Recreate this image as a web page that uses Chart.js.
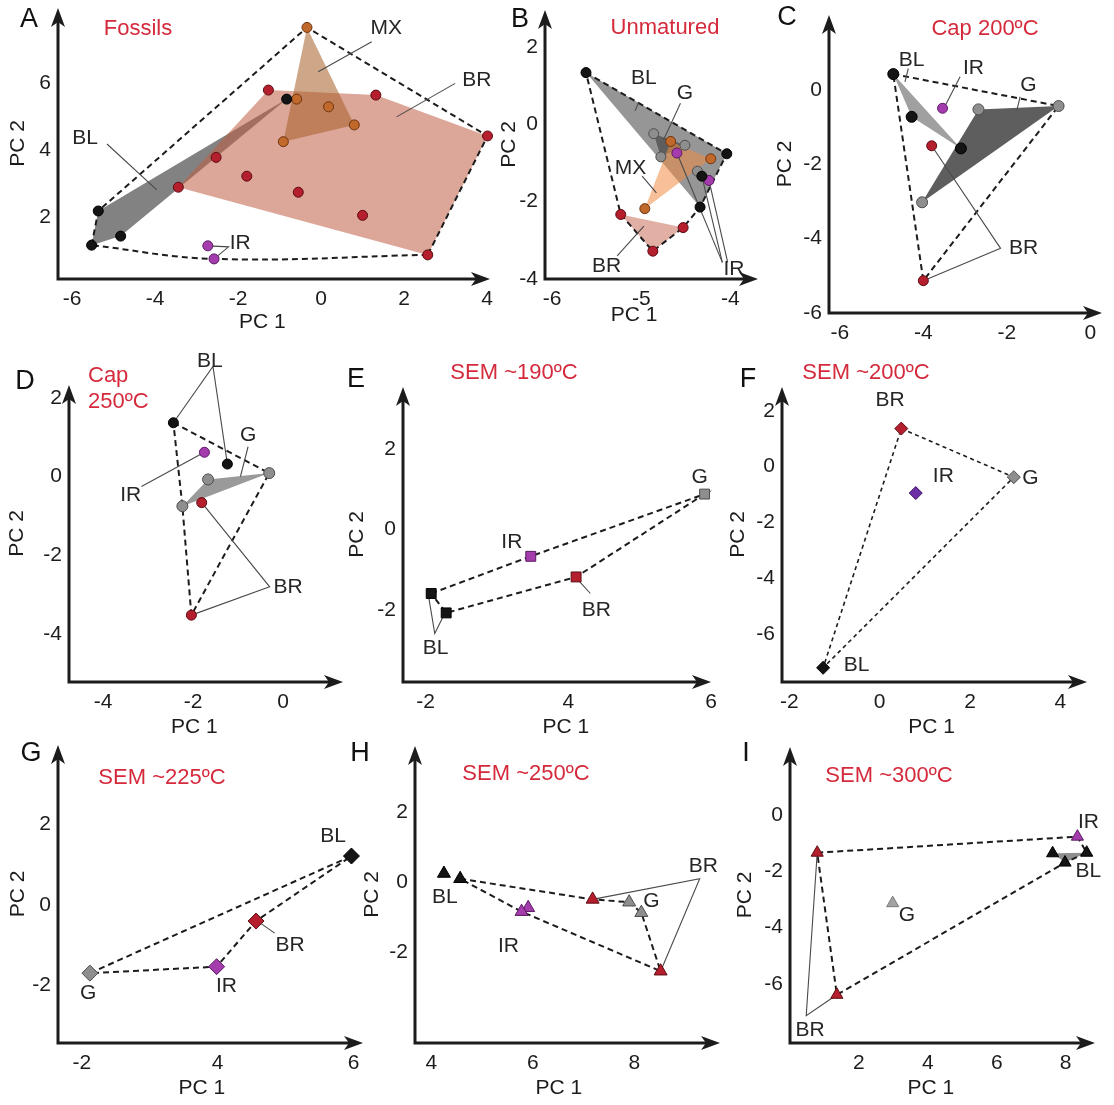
<!DOCTYPE html>
<html>
<head>
<meta charset="utf-8">
<script src="https://cdn.jsdelivr.net/npm/chart.js@4.4.0/dist/chart.umd.min.js"></script>
<style>
  html, body { margin: 0; padding: 0; background: #fff; }
  #page { position: relative; width: 1114px; height: 1105px; overflow: hidden;
          font-family: 'Liberation Sans', Arial, Helvetica, sans-serif; }
  #page canvas { position: absolute; left: 0; top: 0; }
  .tag { position: absolute; transform: translate(-50%, -50%); white-space: nowrap; line-height: 1; }
  .letter { font-size: 27px; color: #111; }
  .cond { font-size: 22px; color: #d42a3c; }
</style>
</head>
<body>
<div id="page"></div>
<script>
// PCA scores, [PC1, PC2]

// A - fossils
const fosXTicks = [-6, -4, -2, 0, 2, 4];
const fosYTicks = [2, 4, 6];
const fosBL = [[-5.37, 2.18], [-4.83, 1.43], [-5.53, 1.16], [-0.83, 5.52]];
const fosBR = [[-1.27, 5.79], [1.32, 5.64], [4.01, 4.42], [-2.53, 3.78], [-1.79, 3.22],
               [-3.44, 2.89], [-0.55, 2.74], [1.00, 2.05], [2.57, 0.87]];
const fosMX = [[-0.34, 7.66], [-0.59, 5.52], [0.18, 5.29], [0.80, 4.75], [-0.91, 4.25]];
const fosIR = [[-2.73, 1.14], [-2.58, 0.75]];

// B - unmatured
const unmXTicks = [-6, -5, -4];
const unmYTicks = [-4, -2, 0, 2];
const unmBL = [[-5.62, 1.34], [-4.04, -0.76], [-4.32, -1.34], [-4.34, -2.14]];
const unmG = [[-4.86, -0.24], [-4.51, -0.54], [-4.78, -0.84], [-4.37, -1.21]];
const unmMX = [[-4.67, -0.44], [-4.22, -0.89], [-4.96, -2.18]];
const unmIR = [[-4.60, -0.74], [-4.24, -1.45]];
const unmBR = [[-5.23, -2.33], [-4.53, -2.67], [-4.87, -3.28]];

// C - capsule 200ºC
const c200XTicks = [-6, -4, -2, 0];
const c200YTicks = [-6, -4, -2, 0];
const c200BL = [[-4.72, 0.43], [-4.28, -0.72], [-3.10, -1.57]];
const c200G = [[-2.68, -0.52], [-0.76, -0.43], [-4.03, -3.02]];
const c200IR = [[-3.54, -0.49]];
const c200BR = [[-3.80, -1.50], [-4.00, -5.13]];

// D - capsule 250ºC
const c250XTicks = [-4, -2, 0];
const c250YTicks = [-4, -2, 0, 2];
const c250BL = [[-2.44, 1.37], [-1.24, 0.32]];
const c250IR = [[-1.75, 0.62]];
const c250G = [[-1.67, -0.07], [-0.31, 0.09], [-2.24, -0.75]];
const c250BR = [[-1.81, -0.66], [-2.04, -3.52]];

// E - SEM ~190ºC (tick text as printed in the figure)
const s190XTicks = [-2, 2, 6];
const s190XTickText = ['-2', '4', '6'];
const s190YTicks = [-2, 0, 2];
const s190BL = [[-1.84, -1.58], [-1.42, -2.06]];
const s190IR = [[0.95, -0.66]];
const s190BR = [[2.22, -1.17]];
const s190G = [[5.82, 0.88]];

// F - SEM ~200ºC
const s200XTicks = [-2, 0, 2, 4];
const s200YTicks = [-6, -4, -2, 0, 2];
const s200BR = [[0.48, 1.36]];
const s200IR = [[0.80, -0.95]];
const s200G = [[2.97, -0.38]];
const s200BL = [[-1.25, -7.21]];

// G - SEM ~225ºC
const s225XTicks = [-2, 2, 6];
const s225XTickText = ['-2', '4', '6'];
const s225YTicks = [-2, 0, 2];
const s225BL = [[5.94, 1.21]];
const s225BR = [[3.13, -0.40]];
const s225IR = [[1.97, -1.53]];
const s225G = [[-1.76, -1.69]];

// H - SEM ~250ºC
const s250XTicks = [4, 6, 8];
const s250YTicks = [-2, 0, 2];
const s250BL = [[4.25, 0.25], [4.57, 0.10]];
const s250IR = [[5.91, -0.73], [5.78, -0.84]];
const s250BR = [[7.18, -0.49], [8.52, -2.54]];
const s250G = [[7.90, -0.57], [8.14, -0.87]];

// I - SEM ~300ºC
const s300XTicks = [2, 4, 6, 8];
const s300YTicks = [-6, -4, -2, 0];
const s300IR = [[8.34, -0.77]];
const s300BL = [[7.62, -1.36], [8.61, -1.34], [7.98, -1.69]];
const s300BR = [[0.79, -1.34], [1.36, -6.38]];
const s300G = [[2.98, -3.13]];

const W = 1114, H = 1105;
const FONT = "'Liberation Sans', Arial, Helvetica, sans-serif";
const INK = '#1c1c1c';
const LEAD = '#4a4a4a';

const colors = {
  BL: { bg: '#141414', bd: '#000000' },
  BR: { bg: '#b51f2d', bd: '#5c0b12' },
  MX: { bg: '#c0692a', bd: '#6b3310' },
  IR: { bg: '#a53cae', bd: '#5a1a62' },
  IRv: { bg: '#6d2fa6', bd: '#3c1563' },
  G: { bg: '#8e8e8e', bd: '#4d4d4d' },
  Gl: { bg: '#a3a3a3', bd: '#7a7a7a' }
};

// pc1Shift: horizontal nudge (px) of the "PC 1" title from the axis centre
const panels = [
  {
    letter: ['A', 29, 18], cond: ['Fossils', 138, 28],
    area: { L: 58, T: 8, R: 490, B: 279 }, pc2X: 18, pc1Y: 322, pc1Shift: -11,
    x: { min: -6.34, max: 4.07, ticks: fosXTicks }, y: { min: 0.15, max: 8.24, ticks: fosYTicks },
    shapes: [
      { pts: [fosBL[2], fosBL[0], fosBL[3], fosBL[1]], fill: '#828282' },
      { pts: [fosBR[5], fosBR[0], fosBR[1], fosBR[2], fosBR[8]], fill: 'rgba(192,92,68,0.55)' },
      { pts: [fosMX[0], fosMX[3], fosMX[4]], fill: 'rgba(165,95,40,0.55)' }
    ],
    hulls: [
      { pts: [fosBL[2], fosBL[0], fosMX[0], fosBR[2], fosBR[8]] },
      { pts: [fosBR[8], fosIR[1], fosBL[2]], tension: 0.4 }
    ],
    leaders: [
      [[1.22, 7.23], [-0.07, 6.34]], [[3.23, 5.99], [1.82, 4.99]],
      [[-5.16, 4.18], [-3.96, 2.81]], [fosIR[0], [-2.23, 1.11], fosIR[1]]
    ],
    groups: [
      { key: 'BL', pts: fosBL, style: 'circle', r: 5 }, { key: 'BR', pts: fosBR, style: 'circle', r: 5 },
      { key: 'MX', pts: fosMX, style: 'circle', r: 5 }, { key: 'IR', pts: fosIR, style: 'circle', r: 5 }
    ],
    labels: [['MX', 1.57, 7.64], ['BR', 3.75, 6.09], ['BL', -5.69, 4.36], ['IR', -1.95, 1.23]]
  },
  {
    letter: ['B', 520, 18], cond: ['Unmatured', 665, 27],
    area: { L: 545, T: 10, R: 758, B: 279 }, pc2X: 509, pc1Y: 315, pc1Shift: -18,
    x: { min: -6.08, max: -3.69, ticks: unmXTicks }, y: { min: -4, max: 2.96, ticks: unmYTicks },
    shapes: [
      { pts: [unmBL[0], unmBL[1], unmBL[3]], fill: 'rgba(105,105,105,0.7)' },
      { pts: [unmG[0], unmG[1], unmG[2]], fill: 'rgba(70,70,70,0.7)' },
      { pts: [unmMX[0], unmMX[1], unmMX[2]], fill: 'rgba(240,140,70,0.55)' },
      { pts: [unmBR[0], unmBR[1], unmBR[2]], fill: 'rgba(200,110,90,0.55)' }
    ],
    hulls: [
      { pts: [unmBL[0], unmBL[1], unmBL[3], unmBR[1], unmBR[2], unmBR[0], unmBL[0]] }
    ],
    leaders: [
      [[-5.03, 0.56], [-5.07, 0.35]], [[-4.56, 0.55], [-4.75, -0.40]],
      [[-4.99, -1.34], [-4.83, -1.77]], [[-5.27, -3.40], [-4.97, -2.63]],
      [[-4.09, -3.57], unmIR[0]], [[-4.09, -3.57], unmBL[2]], [[-4.03, -3.57], unmIR[1]]
    ],
    groups: [
      { key: 'BL', pts: unmBL, style: 'circle', r: 5 }, { key: 'G', pts: unmG, style: 'circle', r: 5 },
      { key: 'MX', pts: unmMX, style: 'circle', r: 5 }, { key: 'IR', pts: unmIR, style: 'circle', r: 5 },
      { key: 'BR', pts: unmBR, style: 'circle', r: 5 }
    ],
    labels: [['BL', -4.97, 1.19], ['G', -4.51, 0.81], ['MX', -5.12, -1.13], ['BR', -5.39, -3.66], ['IR', -3.96, -3.75]]
  },
  {
    letter: ['C', 787, 16], cond: ['Cap 200ºC', 985, 28],
    area: { L: 829, T: 15, R: 1102, B: 313 }, pc2X: 785, pc1Y: null, pc1Shift: 0,
    x: { min: -6.26, max: 0.28, ticks: c200XTicks }, y: { min: -6, max: 2.02, ticks: c200YTicks },
    shapes: [
      { pts: [c200BL[0], c200BL[2], c200BL[1]], fill: '#a0a0a0' },
      { pts: [c200G[0], c200G[1], c200G[2]], fill: '#5e5e5e' }
    ],
    hulls: [{ pts: [c200BL[0], c200G[1], c200BR[1], c200BL[0]] }],
    leaders: [
      [[-4.36, 0.58], [-4.44, 0.22]], [[-3.12, 0.36], [-3.48, -0.43]],
      [[-1.68, -0.18], [-1.76, -0.54]], [c200BR[0], [-2.15, -4.26], c200BR[1]]
    ],
    groups: [
      { key: 'BL', pts: c200BL, style: 'circle', r: 5.5 }, { key: 'G', pts: c200G, style: 'circle', r: 5.5 },
      { key: 'IR', pts: c200IR, style: 'circle', r: 5 }, { key: 'BR', pts: c200BR, style: 'circle', r: 5 }
    ],
    labels: [['BL', -4.28, 0.81], ['IR', -2.80, 0.58], ['G', -1.48, 0.13], ['BR', -1.60, -4.26]]
  },
  {
    letter: ['D', 25, 380], cond2: ['Cap', '250ºC', 88, 362],
    area: { L: 69, T: 385, R: 343, B: 682 }, pc2X: 17, pc1Y: 727, pc1Shift: -11,
    x: { min: -4.76, max: 1.33, ticks: c250XTicks }, y: { min: -5.22, max: 2.33, ticks: c250YTicks },
    shapes: [{ pts: [c250G[2], c250G[0], c250G[1]], fill: '#9a9a9a' }],
    hulls: [{ pts: [c250BL[0], c250G[1], c250BR[1], c250G[2], c250BL[0]] }],
    leaders: [
      [c250BL[0], [-1.56, 2.80], c250BL[1]], [[-0.78, 0.76], [-0.95, 0.00]],
      [[-3.15, -0.25], c250IR[0]], [c250BR[0], [-0.30, -2.80], c250BR[1]]
    ],
    groups: [
      { key: 'BL', pts: c250BL, style: 'circle', r: 5 }, { key: 'IR', pts: c250IR, style: 'circle', r: 5 },
      { key: 'G', pts: c250G, style: 'circle', r: 5.5 }, { key: 'BR', pts: c250BR, style: 'circle', r: 5 }
    ],
    labels: [['BL', -1.63, 2.93], ['G', -0.78, 1.06], ['IR', -3.39, -0.47], ['BR', 0.11, -2.80]]
  },
  {
    letter: ['E', 356, 378], cond: ['SEM ~190ºC', 514, 372],
    area: { L: 403, T: 387, R: 711, B: 682 }, pc2X: 357, pc1Y: 727, pc1Shift: 10,
    x: { min: -2.63, max: 6, ticks: s190XTicks, text: s190XTickText }, y: { min: -3.77, max: 3.53, ticks: s190YTicks },
    shapes: [],
    hulls: [{ pts: [s190BL[0], s190IR[0], s190G[0], s190BR[0], s190BL[1], s190BL[0]] }],
    leaders: [[[2.28, -1.25], [2.62, -1.58]], [[-1.91, -1.67], [-1.74, -2.57], [-1.47, -2.09]]],
    groups: [
      { key: 'BL', pts: s190BL, style: 'rect', r: 7 }, { key: 'IR', pts: s190IR, style: 'rect', r: 7 },
      { key: 'BR', pts: s190BR, style: 'rect', r: 7 }, { key: 'G', pts: s190G, style: 'rect', r: 7 }
    ],
    labels: [['IR', 0.42, -0.30], ['G', 5.68, 1.30], ['BR', 2.79, -2.00], ['BL', -1.72, -2.94]]
  },
  {
    letter: ['F', 748, 378], cond: ['SEM ~200ºC', 866, 372],
    area: { L: 782, T: 387, R: 1087, B: 682 }, pc2X: 738, pc1Y: 727, pc1Shift: -4,
    x: { min: -2.16, max: 4.59, ticks: s200XTicks }, y: { min: -7.72, max: 2.85, ticks: s200YTicks },
    shapes: [],
    hulls: [{ pts: [s200BR[0], s200G[0], s200BL[0], s200BR[0]], dash: [4, 3.5], w: 1.6 }],
    leaders: [],
    groups: [
      { key: 'BR', pts: s200BR, style: 'rectRot', r: 6.5 }, { key: 'IRv', pts: s200IR, style: 'rectRot', r: 6.5 },
      { key: 'G', pts: s200G, style: 'rectRot', r: 6.5 }, { key: 'BL', pts: s200BL, style: 'rectRot', r: 6.5 }
    ],
    labels: [['BR', 0.23, 2.37], ['IR', 1.41, -0.35], ['G', 3.34, -0.43], ['BL', -0.51, -7.13]]
  },
  {
    letter: ['G', 31, 752], cond: ['SEM ~225ºC', 162, 777],
    area: { L: 58, T: 745, R: 363, B: 1043 }, pc2X: 18, pc1Y: 1088, pc1Shift: -10,
    x: { min: -2.70, max: 6.28, ticks: s225XTicks, text: s225XTickText }, y: { min: -3.42, max: 3.96, ticks: s225YTicks },
    shapes: [],
    hulls: [{ pts: [s225G[0], s225BL[0], s225BR[0], s225IR[0], s225G[0]] }],
    leaders: [[[3.29, -0.47], [3.68, -0.70]]],
    groups: [
      { key: 'BL', pts: s225BL, style: 'rectRot', r: 8 }, { key: 'BR', pts: s225BR, style: 'rectRot', r: 8 },
      { key: 'IR', pts: s225IR, style: 'rectRot', r: 8 }, { key: 'G', pts: s225G, style: 'rectRot', r: 8 }
    ],
    labels: [['BL', 5.40, 1.69], ['BR', 4.13, -0.99], ['IR', 2.26, -2.02], ['G', -1.81, -2.19]]
  },
  {
    letter: ['H', 360, 752], cond: ['SEM ~250ºC', 526, 773],
    area: { L: 415, T: 746, R: 720, B: 1043 }, pc2X: 372, pc1Y: 1088, pc1Shift: -10,
    x: { min: 3.68, max: 9.69, ticks: s250XTicks }, y: { min: -4.59, max: 3.89, ticks: s250YTicks },
    shapes: [],
    hulls: [{ pts: [s250BL[1], s250BR[0], s250G[0], s250G[1], s250BR[1], s250IR[1], s250BL[1]] }],
    leaders: [[s250BR[0], [9.29, 0.10], s250BR[1]]],
    groups: [
      { key: 'BL', pts: s250BL, style: 'triangle', r: 7.5 }, { key: 'IR', pts: s250IR, style: 'triangle', r: 7.5 },
      { key: 'BR', pts: s250BR, style: 'triangle', r: 7.5 }, { key: 'G', pts: s250G, style: 'triangle', r: 7.5 }
    ],
    labels: [['BL', 4.27, -0.44], ['IR', 5.52, -1.83], ['G', 8.34, -0.54], ['BR', 9.36, 0.46]]
  },
  {
    letter: ['I', 746, 752], cond: ['SEM ~300ºC', 889, 775],
    area: { L: 790, T: 747, R: 1095, B: 1043 }, pc2X: 745, pc1Y: 1088, pc1Shift: -12,
    x: { min: 0, max: 8.85, ticks: s300XTicks }, y: { min: -8.09, max: 2.41, ticks: s300YTicks },
    shapes: [{ pts: [s300BL[0], s300BL[1], s300BL[2]], fill: '#8f8f8f' }],
    hulls: [{ pts: [s300BR[0], s300IR[0], s300BL[1], s300BL[2], s300BR[1], s300BR[0]] }],
    leaders: [[s300BR[0], [0.47, -7.12], s300BR[1]]],
    groups: [
      { key: 'IR', pts: s300IR, style: 'triangle', r: 7 }, { key: 'BL', pts: s300BL, style: 'triangle', r: 7 },
      { key: 'BR', pts: s300BR, style: 'triangle', r: 7 }, { key: 'Gl', pts: s300G, style: 'triangle', r: 7 }
    ],
    labels: [['IR', 8.66, -0.24], ['BL', 8.66, -2.01], ['G', 3.39, -3.55], ['BR', 0.58, -7.62]]
  }
];

const xy = p => ({ x: p[0], y: p[1] });

function buildDatasets(p) {
  const ds = [];
  p.shapes.forEach((s, i) => ds.push({
    data: s.pts.concat([s.pts[0]]).map(xy), showLine: true, fill: 'shape',
    backgroundColor: s.fill, borderColor: 'rgba(0,0,0,0)', borderWidth: 1,
    pointRadius: 0, order: 20 - i, clip: false
  }));
  p.hulls.forEach(h => ds.push({
    data: h.pts.map(xy), showLine: true, fill: false, borderColor: INK,
    borderWidth: h.w || 2, borderDash: h.dash || [6, 4], tension: h.tension || 0,
    pointRadius: 0, order: 5, clip: false
  }));
  p.leaders.forEach(l => ds.push({
    data: l.map(xy), showLine: true, fill: false, borderColor: LEAD,
    borderWidth: 1.1, pointRadius: 0, order: 4, clip: false
  }));
  p.groups.forEach(g => ds.push({
    data: g.pts.map(xy), showLine: false, pointStyle: g.style, pointRadius: g.r,
    backgroundColor: colors[g.key].bg, borderColor: colors[g.key].bd, borderWidth: 1,
    order: 1, clip: false
  }));
  return ds;
}

// pad a centred title with spaces so it sits shift px off the axis centre
function shiftedTitle(text, shift) {
  const n = Math.round(Math.abs(shift) / 2.9);
  const pad = ' '.repeat(n);
  return shift < 0 ? text + pad : pad + text;
}

function scaleFor(ax, horiz, p) {
  const font = { family: FONT, size: 21 };
  const lh = 21 * 1.2;
  return {
    type: 'linear', position: horiz ? 'bottom' : 'left', min: ax.min, max: ax.max,
    grid: { display: false, drawTicks: false }, border: { display: false },
    afterBuildTicks: s => { s.ticks = ax.ticks.map(v => ({ value: v })); },
    ticks: {
      font, color: INK, padding: horiz ? 8 : 7, autoSkip: false, maxRotation: 0,
      callback: (v, i) => ax.text ? ax.text[i] : String(v)
    },
    title: horiz
      ? { display: p.pc1Y != null, text: shiftedTitle('PC 1', p.pc1Shift), font, color: INK,
          padding: { top: 0, bottom: H - (p.pc1Y || 0) - lh / 2 } }
      : { display: true, text: 'PC 2', font, color: INK, padding: { top: p.pc2X - lh / 2, bottom: 0 } },
    afterFit: s => {
      if (horiz) s.height = H - p.area.B; else s.width = p.area.L;
      s.paddingLeft = s.paddingRight = s.paddingTop = s.paddingBottom = 0;
    }
  };
}

// axes with arrow heads
const arrowAxes = {
  id: 'arrowAxes',
  afterDraw(chart) {
    const { ctx, chartArea: a } = chart;
    ctx.save();
    ctx.strokeStyle = INK;
    ctx.fillStyle = INK;
    ctx.lineWidth = 3;
    ctx.lineCap = 'butt';
    ctx.beginPath();
    ctx.moveTo(a.left, a.top + 12);
    ctx.lineTo(a.left, a.bottom);
    ctx.lineTo(a.right - 12, a.bottom);
    ctx.stroke();
    ctx.beginPath();
    ctx.moveTo(a.left, a.top);
    ctx.lineTo(a.left + 7, a.top + 19);
    ctx.lineTo(a.left, a.top + 14);
    ctx.lineTo(a.left - 7, a.top + 19);
    ctx.closePath();
    ctx.fill();
    ctx.beginPath();
    ctx.moveTo(a.right, a.bottom);
    ctx.lineTo(a.right - 19, a.bottom - 7);
    ctx.lineTo(a.right - 14, a.bottom);
    ctx.lineTo(a.right - 19, a.bottom + 7);
    ctx.closePath();
    ctx.fill();
    ctx.restore();
  }
};

function groupLabels(p) {
  return {
    id: 'groupLabels',
    afterDatasetsDraw(chart) {
      const { ctx, scales: { x, y } } = chart;
      ctx.save();
      ctx.font = '21px ' + FONT;
      ctx.fillStyle = '#262626';
      ctx.textAlign = 'center';
      ctx.textBaseline = 'middle';
      p.labels.forEach(([t, vx, vy]) => ctx.fillText(t, x.getPixelForValue(vx), y.getPixelForValue(vy)));
      ctx.restore();
    }
  };
}

const page = document.getElementById('page');

panels.forEach(p => {
  const canvas = document.createElement('canvas');
  canvas.width = W;
  canvas.height = H;
  canvas.style.width = W + 'px';
  canvas.style.height = H + 'px';
  page.appendChild(canvas);

  new Chart(canvas, {
    type: 'scatter',
    data: { datasets: buildDatasets(p) },
    options: {
      responsive: false,
      animation: false,
      events: [],
      layout: { padding: { left: 0, top: p.area.T, right: W - p.area.R, bottom: 0 } },
      plugins: { legend: { display: false }, tooltip: { enabled: false } },
      scales: { x: scaleFor(p.x, true, p), y: scaleFor(p.y, false, p) }
    },
    plugins: [arrowAxes, groupLabels(p)]
  });
});

// panel letters and condition titles
panels.forEach(p => {
  const l = document.createElement('div');
  l.className = 'tag letter';
  l.textContent = p.letter[0];
  l.style.left = p.letter[1] + 'px';
  l.style.top = p.letter[2] + 'px';
  page.appendChild(l);
  if (p.cond) {
    const c = document.createElement('div');
    c.className = 'tag cond';
    c.textContent = p.cond[0];
    c.style.left = p.cond[1] + 'px';
    c.style.top = p.cond[2] + 'px';
    page.appendChild(c);
  }
  if (p.cond2) {
    const c = document.createElement('div');
    c.className = 'cond';
    c.style.position = 'absolute';
    c.style.left = p.cond2[2] + 'px';
    c.style.top = p.cond2[3] + 'px';
    c.style.lineHeight = '26px';
    c.innerHTML = p.cond2[0] + '<br>' + p.cond2[1];
    page.appendChild(c);
  }
});
</script>
</body>
</html>
